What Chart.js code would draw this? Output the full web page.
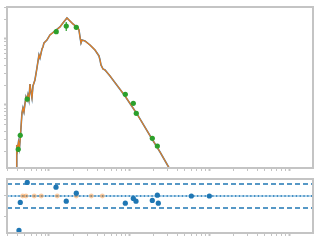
<!DOCTYPE html>
<html><head><meta charset="utf-8">
<script src="https://cdn.jsdelivr.net/npm/chart.js@4"></script>
<style>html,body{margin:0;padding:0;background:#fff;width:320px;height:240px;overflow:hidden}
canvas{position:absolute;left:0}
#top{top:0}#bot{top:172px}</style></head><body>
<canvas id="top" width="320" height="176"></canvas>
<canvas id="bot" width="320" height="68"></canvas>
<script>
// Model spectrum (x, y)
const lineX = [0.0395,0.0396,0.0404,0.0416,0.0428,0.0441,0.0460,0.0473,0.0487,0.0501,0.0516,0.0531,0.0546,0.0562,0.0579,0.0596,0.0613,0.0631,0.0668,0.0708,0.0750,0.0772,0.0818,0.0841,0.0866,0.0944,0.1029,0.1189,0.1372,0.1496,0.1679,0.1830,0.1995,0.2304,0.2371,0.2441,0.2512,0.2585,0.2818,0.3255,0.3758,0.4217,0.4341,0.4467,0.4732,0.5012,0.5788,0.631,0.891,1.259,1.939,2.441,3.072,3.447];
const lineY = [0.008,0.0248,0.0208,0.0275,0.0223,0.0351,0.0756,0.0901,0.0783,0.1036,0.132,0.119,0.142,0.119,0.208,0.157,0.128,0.194,0.239,0.364,0.572,0.515,0.705,0.756,0.870,0.966,1.150,1.322,1.520,1.748,2.081,1.874,1.688,1.468,1.368,1.072,0.870,0.966,0.933,0.811,0.681,0.553,0.481,0.404,0.351,0.339,0.275,0.239,0.137,0.0731,0.0305,0.0194,0.0119,0.0093];
// Observed photometry
const obsX   = [0.0413,0.0438,0.0535,0.1234,0.1644,0.2195,0.899,1.132,1.233,1.955,2.26];
const obsY   = [0.0213,0.0347,0.123,1.29,1.57,1.50,0.145,0.106,0.0748,0.0313,0.0239];
const obsYLo = [0.0195,0.0318,0.115,1.24,1.32,1.44,0.140,0.102,0.0722,0.0302,0.0230];
const obsYHi = [0.0233,0.0380,0.131,1.34,1.81,1.56,0.150,0.110,0.0775,0.0324,0.0248];
const obsXLo = [0.0405,0.0430,0.0528,0.1218,0.1550,0.2170,0.890,1.120,1.220,1.935,2.24];
const obsXHi = [0.0421,0.0446,0.0542,0.1250,0.1740,0.2220,0.908,1.144,1.246,1.975,2.28];
// Residuals
const resX = [0.0422,0.0438,0.0535,0.1224,0.1644,0.2195,0.899,1.132,1.223,1.955,2.26,2.323,6.01,10.09];
const resY = [-8.6,-1.6,3.4,2.2,-1.3,0.7,-1.8,-0.6,-1.3,-1.1,0.2,-1.8,0,0];
const limX = [0.0469,0.0516,0.0655,0.0801,0.127,0.2195,0.338,0.464];
const limY = [0,0,0,0,0,0,0,0];
const bandLevels = [3,-3];

const XMIN = 0.0299, XMAX = 199;
const zip = (a,b)=>a.map((v,i)=>({x:v,y:b[i]}));
function logTicks(min,max){const t=[];for(let e=Math.floor(Math.log10(min));e<=Math.ceil(Math.log10(max));e++){for(let m=1;m<=9;m++){const v=m*Math.pow(10,e);if(v>=min*0.9999&&v<=max*1.0001)t.push({value:v,major:m===1});}}return t;}
const frame = {id:'frame',afterDraw(c){const a=c.chartArea,ctx=c.ctx;ctx.save();ctx.strokeStyle='#c4c4c4';ctx.lineWidth=2;ctx.strokeRect(a.left,a.top,a.right-a.left,a.bottom-a.top);ctx.restore();}};
const errPlugin = {id:'err',afterDatasetsDraw(c){const {ctx,scales:{x,y}}=c;const a=c.chartArea;ctx.save();ctx.beginPath();ctx.rect(a.left,a.top,a.right-a.left,a.bottom-a.top);ctx.clip();ctx.strokeStyle='#2ca02c';ctx.lineWidth=1.2;
 obsX.forEach((v,i)=>{const px=x.getPixelForValue(v),py=y.getPixelForValue(obsY[i]);ctx.beginPath();ctx.moveTo(px,y.getPixelForValue(obsYLo[i]));ctx.lineTo(px,y.getPixelForValue(obsYHi[i]));ctx.moveTo(x.getPixelForValue(obsXLo[i]),py);ctx.lineTo(x.getPixelForValue(obsXHi[i]),py);ctx.stroke();});ctx.restore();}};
const tickGrid = {display:true,drawOnChartArea:false,drawTicks:true,tickLength:3,tickColor:'#c4c4c4',tickWidth:(c)=>c.tick&&c.tick.major?2:1,color:'#c4c4c4'};

new Chart(document.getElementById('top'),{
 type:'scatter',
 data:{datasets:[
  {data:zip(obsX,obsY),pointRadius:2.6,backgroundColor:'#2ca02c',borderWidth:0,order:0},
  {data:zip(lineX,lineY),showLine:true,pointRadius:0,borderColor:'#e27d22',borderWidth:1.2,order:1},
  {data:zip(lineX,lineY),showLine:true,pointRadius:0,borderColor:'#3a7fb5',borderWidth:1.6,order:2}
 ]},
 options:{responsive:false,maintainAspectRatio:false,animation:false,
  layout:{padding:{left:0,top:7,right:7,bottom:0}},
  plugins:{legend:{display:false},tooltip:{enabled:false}},
  scales:{
   x:{type:'logarithmic',min:XMIN,max:XMAX,border:{display:false},grid:tickGrid,ticks:{display:false},
      afterBuildTicks:s=>{s.ticks=logTicks(XMIN,XMAX);},afterFit:s=>{s.height=8;}},
   y:{type:'logarithmic',min:0.0111,max:3.05,border:{display:false},grid:tickGrid,ticks:{display:false},
      afterBuildTicks:s=>{s.ticks=logTicks(0.0111,3.05);},afterFit:s=>{s.width=7;}}
  }},
 plugins:[frame,errPlugin]
});

new Chart(document.getElementById('bot'),{
 type:'scatter',
 data:{datasets:[
  {data:zip(resX,resY),pointRadius:2.6,backgroundColor:'#1f77b4',borderWidth:0,order:0},
  {data:zip(limX,limY),pointRadius:2.4,backgroundColor:'rgba(255,127,14,0.4)',borderWidth:0,order:1},
  {data:[{x:XMIN,y:0},{x:XMAX,y:0}],showLine:true,pointRadius:0,borderColor:'#1f77b4',borderWidth:1.3,borderDash:[1.3,2.5],order:2},
  {data:[{x:XMIN,y:0},{x:XMAX,y:0}],showLine:true,pointRadius:0,borderColor:'#9cc8e6',borderWidth:1.3,order:3},
  {data:[{x:XMIN,y:bandLevels[0]},{x:XMAX,y:bandLevels[0]}],showLine:true,pointRadius:0,borderColor:'#1f77b4',borderWidth:1.4,borderDash:[5,3],order:4},
  {data:[{x:XMIN,y:bandLevels[1]},{x:XMAX,y:bandLevels[1]}],showLine:true,pointRadius:0,borderColor:'#1f77b4',borderWidth:1.4,borderDash:[5,3],order:5}
 ]},
 options:{responsive:false,maintainAspectRatio:false,animation:false,
  layout:{padding:{left:0,top:7,right:7,bottom:0}},
  plugins:{legend:{display:false},tooltip:{enabled:false}},
  scales:{
   x:{type:'logarithmic',min:XMIN,max:XMAX,border:{display:false},grid:tickGrid,ticks:{display:false},
      afterBuildTicks:s=>{s.ticks=logTicks(XMIN,XMAX);},afterFit:s=>{s.height=7;}},
   y:{type:'linear',min:-9.25,max:4.25,border:{display:false},grid:tickGrid,ticks:{display:false},
      afterBuildTicks:s=>{s.ticks=[{value:-5},{value:0}];},afterFit:s=>{s.width=7;}}
  }},
 plugins:[frame]
});
</script></body></html>
